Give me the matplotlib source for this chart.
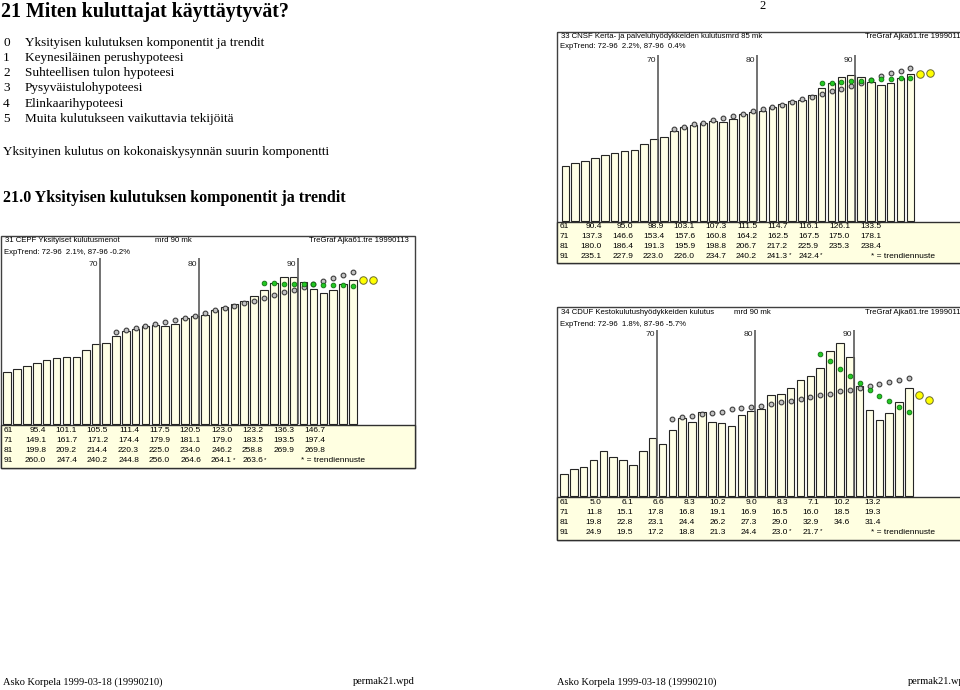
import matplotlib
matplotlib.use('Agg')
import matplotlib.pyplot as plt
from matplotlib.patches import Rectangle
import matplotlib.transforms as mtransforms
from matplotlib import font_manager

W, H = 960, 690

# ---------------- data ----------------
years = list(range(1961, 1997))
row_labels = ['61', '71', '81', '91']
decade_labels = ['70', '80', '90']
decade_pos = [9.4, 19.4, 29.4]

cepf = [95.4, 101.1, 105.5, 111.4, 117.5, 120.5, 123.0, 123.2, 136.3, 146.7,
        149.1, 161.7, 171.2, 174.4, 179.9, 181.1, 179.0, 183.5, 193.5, 197.4,
        199.8, 209.2, 214.4, 220.3, 225.0, 234.0, 246.2, 258.8, 269.9, 269.8,
        260.0, 247.4, 240.2, 244.8, 256.0, 264.6]
cepf_fc = [264.1, 263.6]
cepf_trend_7296 = [168, 171.6, 175.3, 179.5, 183.2, 186.9, 191.1, 194.2, 197.9, 204.0,
                   208.3, 212.5, 216.2, 221.7, 226.0, 230.3, 235.8, 241.3, 245.5, 250.4,
                   256.0, 262.6, 268.0, 273.0, 279.0]
cepf_trend_8796 = [257.8, 257.8, 256.5, 256.5, 255.9, 255.9, 255.3, 255.3, 254.1, 253.4]

cnsf = [90.4, 95.0, 98.9, 103.1, 107.3, 111.5, 114.7, 116.1, 126.1, 133.5,
        137.3, 146.6, 153.4, 157.6, 160.8, 164.2, 162.5, 167.5, 175.0, 178.1,
        180.0, 186.4, 191.3, 195.9, 198.8, 206.7, 217.2, 225.9, 235.3, 238.4,
        235.1, 227.9, 223.0, 226.0, 234.7, 240.2]
cnsf_fc = [241.3, 242.4]
cnsf_trend_7296 = [150.5, 154.2, 158.1, 160.8, 164.7, 168.5, 171.7, 175.5, 179.4, 182.7,
                   186.0, 190.2, 194.7, 199.1, 203.3, 208.3, 212.7, 216.4, 220.9, 225.3,
                   230.7, 237.2, 241.7, 245.9, 250.8]
cnsf_trend_8796 = [226.3, 226.3, 227.4, 229.0, 229.5, 230.7, 231.8, 232.8, 233.5, 234.5]

cduf = [5.0, 6.1, 6.6, 8.3, 10.2, 9.0, 8.3, 7.1, 10.2, 13.2,
        11.8, 15.1, 17.8, 16.8, 19.1, 16.9, 16.5, 16.0, 18.5, 19.3,
        19.8, 22.8, 23.1, 24.4, 26.2, 27.3, 29.0, 32.9, 34.6, 31.4,
        24.9, 19.5, 17.2, 18.8, 21.3, 24.4]
cduf_fc = [23.0, 21.7]
cduf_trend_7296 = [17.56, 17.94, 18.24, 18.55, 18.77, 19.0, 19.68, 19.9, 20.2, 20.5,
                   20.94, 21.33, 21.62, 22.0, 22.39, 22.84, 23.2, 23.75, 24.04, 24.49,
                   24.94, 25.4, 25.78, 26.23, 26.82]
cduf_trend_8796 = [32.25, 30.52, 28.72, 27.14, 25.56, 24.04, 22.68, 21.49, 20.27, 19.0]

# ---------------- fonts ----------------
SERIF = 'Liberation Serif'
SANS = 'Liberation Sans'
names = {f.name for f in font_manager.fontManager.ttflist}
if 'Liberation Sans Narrow' in names:
    HDRFONT, HDR = 'Liberation Sans Narrow', 6.6
else:
    HDRFONT, HDR = SANS, 5.6

# ---------------- figure ----------------
fig = plt.figure(figsize=(9.6, 6.9), dpi=100)
bg = fig.add_axes([0, 0, 1, 1])
bg.set_xlim(0, W)
bg.set_ylim(H, 0)
bg.axis('off')

# page text
bg.text(1, 17, '21 Miten kuluttajat käyttäytyvät?', fontsize=14.3, fontweight='bold',
        family=SERIF, va='baseline', ha='left')
bg.text(763, 6, '2', fontsize=9, family=SERIF, va='center', ha='center')
items = ['Yksityisen kulutuksen komponentit ja trendit',
         'Keynesiläinen perushypoteesi',
         'Suhteellisen tulon hypoteesi',
         'Pysyväistulohypoteesi',
         'Elinkaarihypoteesi',
         'Muita kulutukseen vaikuttavia tekijöitä']
item_y = [43, 58, 73, 88, 104, 119]
for k, (txt, yy) in enumerate(zip(items, item_y)):
    bg.text(3, yy, str(k), fontsize=9.5, family=SERIF, va='center', ha='left')
    bg.text(25, yy, txt, fontsize=9.5, family=SERIF, va='center', ha='left')
bg.text(3, 152, 'Yksityinen kulutus on kokonaiskysynnän suurin komponentti',
        fontsize=9.5, family=SERIF, va='center', ha='left')
bg.text(3, 198, '21.0 Yksityisen kulutuksen komponentit ja trendit', fontsize=11.5,
        fontweight='bold', family=SERIF, va='center', ha='left')
for xx, txt in [(3, 'Asko Korpela 1999-03-18 (19990210)'), (353, 'permak21.wpd'),
                (557, 'Asko Korpela 1999-03-18 (19990210)'), (908, 'permak21.wpd')]:
    bg.text(xx, 682, txt, fontsize=7.5, family=SERIF, va='center', ha='left')

BAR_FILL = '#FFFFE6'
TABLE_FILL = '#FFFFE1'


def draw_chart(left, top, plot_top, baseline, bottom, c0, sp, scale,
               values, fc, tr_long, tr_short, title, unit, unit_off,
               exptrend, header_y, exp_y, label_y, row_y, note_off):
    right = left + 414
    # panel frame and table
    bg.add_patch(Rectangle((left, top), right - left, bottom - top, fill=False,
                           edgecolor='#404040', lw=1.0, zorder=1))
    bg.add_patch(Rectangle((left, baseline + 0.5), right - left, bottom - baseline - 0.5,
                           facecolor=TABLE_FILL, edgecolor='#303030', lw=1.0, zorder=1))
    # header
    if unit_off is None:
        bg.text(left + 4, header_y, title + unit, fontsize=HDR, family=HDRFONT,
                va='center', ha='left')
    else:
        bg.text(left + 4, header_y, title, fontsize=HDR, family=HDRFONT, va='center', ha='left')
        bg.text(left + unit_off, header_y, unit, fontsize=HDR, family=HDRFONT,
                va='center', ha='left')
    bg.text(left + 308, header_y, 'TreGraf Ajka61.tre 19990113', fontsize=HDR,
            family=HDRFONT, va='center', ha='left')
    bg.text(left + 3, exp_y, exptrend, fontsize=HDR, family=HDRFONT, va='center', ha='left')

    # plot axes
    x0, x1 = left + 1, right - 1
    ax = fig.add_axes([x0 / W, 1 - baseline / H, (x1 - x0) / W, (baseline - plot_top) / H])
    ax.set_facecolor('none')
    ax.set_xlim((x0 - c0) / sp, (x1 - c0) / sp)
    ymax = (baseline - plot_top) / scale
    ax.set_ylim(0, ymax)
    ax.axis('off')
    n = len(values)
    ax.bar(range(n), values, width=0.77, color=BAR_FILL, edgecolor='#252525',
           linewidth=0.8, zorder=2, clip_on=False)
    trans = mtransforms.blended_transform_factory(ax.transData, ax.transAxes)
    for pos, lab in zip(decade_pos, decade_labels):
        ax.plot([pos, pos], [0, 1], transform=trans, color='#5A5A5A', lw=1.2, zorder=3)
        ax.text(pos - 0.2, 1 - (label_y - plot_top) / (baseline - plot_top), lab,
                transform=trans, fontsize=HDR + 0.5, family=HDRFONT, ha='right', va='center',
                color='#202020')
    ax.plot(range(n - len(tr_long), n), tr_long, 'o', ms=3.4, mfc='#C4C4C4',
            mec='#3C3C3C', mew=0.8, zorder=4, clip_on=False)
    ax.plot(range(n - len(tr_short), n), tr_short, 'o', ms=3.4, mfc='#22C822',
            mec='#107010', mew=0.6, zorder=5, clip_on=False)
    ax.plot(range(n, n + len(fc)), fc, 'o', ms=5.4, mfc='#FFFF00',
            mec='#6A6A30', mew=0.7, zorder=5, clip_on=False)

    # table
    col0 = left + 45
    colsp = 31.0
    for r, lab in enumerate(row_labels):
        yy = row_y[r]
        bg.text(left + 3, yy, lab, fontsize=6.0, family=SANS, va='center', ha='left')
        chunk = values[r * 10:(r + 1) * 10]
        for k, v in enumerate(chunk):
            bg.text(col0 + k * colsp, yy, f'{v:.1f}', fontsize=6.0, family=SANS,
                    va='center', ha='right')
        if r == len(row_labels) - 1:
            for j, v in enumerate(fc):
                k = len(chunk) + j
                bg.text(col0 + k * colsp, yy, f'{v:.1f}', fontsize=6.0, family=SANS,
                        va='center', ha='right')
                bg.text(col0 + k * colsp + 0.5, yy - 1.5, '*', fontsize=4.5, family=SANS,
                        va='center', ha='left')
            bg.text(left + note_off, yy, '* = trendiennuste', fontsize=6.0, family=SANS,
                    va='center', ha='left')
    return ax


draw_chart(left=1, top=236, plot_top=258, baseline=424, bottom=468,
           c0=7.15, sp=9.88, scale=0.5458,
           values=cepf, fc=cepf_fc, tr_long=cepf_trend_7296, tr_short=cepf_trend_8796,
           title='31 CEPF Yksityiset kulutusmenot', unit='mrd 90 mk', unit_off=154,
           exptrend='ExpTrend: 72-96  2.1%, 87-96 -0.2%',
           header_y=241, exp_y=252, label_y=264, row_y=[431, 441, 451, 461], note_off=300)

draw_chart(left=557, top=32, plot_top=55, baseline=221, bottom=263,
           c0=565.4, sp=9.857, scale=0.6108,
           values=cnsf, fc=cnsf_fc, tr_long=cnsf_trend_7296, tr_short=cnsf_trend_8796,
           title='33 CNSF Kerta- ja palveluhyödykkeiden kulutus', unit='mrd 85 mk', unit_off=None,
           exptrend='ExpTrend: 72-96  2.2%, 87-96  0.4%',
           header_y=37, exp_y=47, label_y=60, row_y=[226, 236, 246, 256], note_off=314)

draw_chart(left=557, top=307, plot_top=330, baseline=496.4, bottom=540,
           c0=563.9, sp=9.86, scale=4.426,
           values=cduf, fc=cduf_fc, tr_long=cduf_trend_7296, tr_short=cduf_trend_8796,
           title='34 CDUF Kestokulutushyödykkeiden kulutus', unit='mrd 90 mk', unit_off=177,
           exptrend='ExpTrend: 72-96  1.8%, 87-96 -5.7%',
           header_y=313, exp_y=324, label_y=335, row_y=[503, 513, 523, 532], note_off=314)

fig.savefig('out.png', dpi=100)
